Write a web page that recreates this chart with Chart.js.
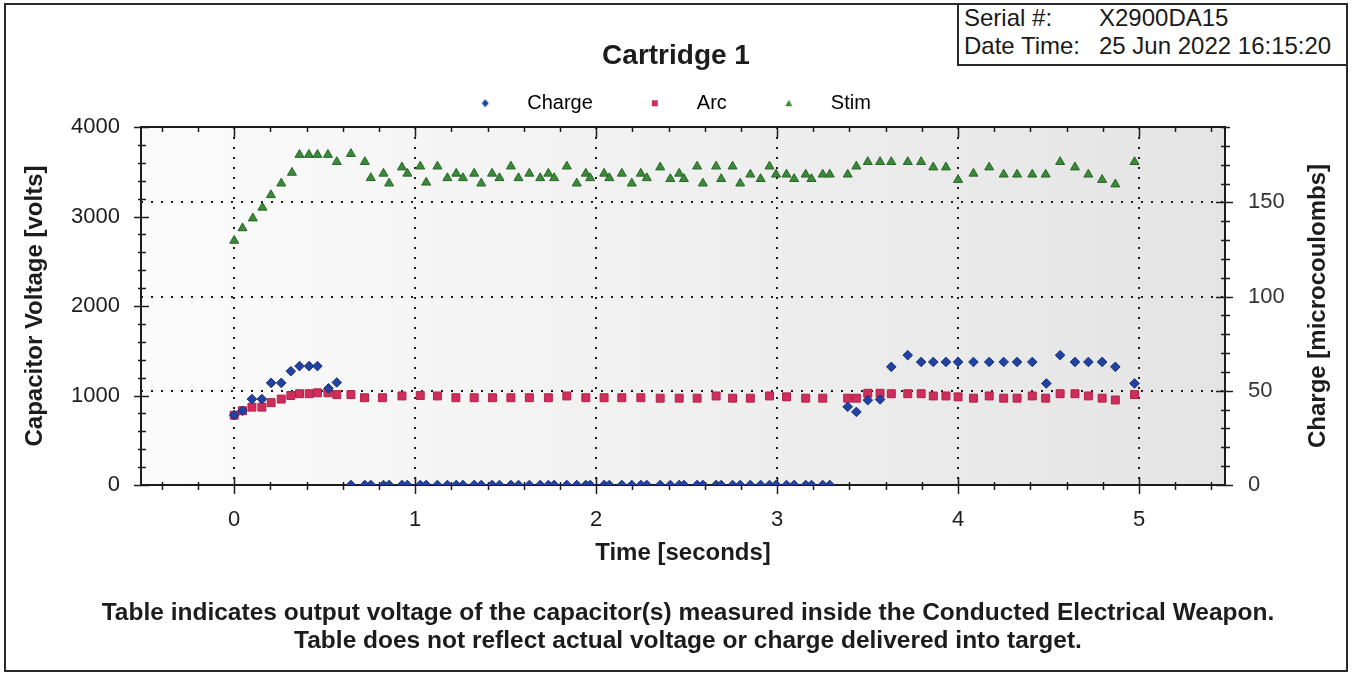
<!DOCTYPE html>
<html>
<head>
<meta charset="utf-8">
<script src="https://cdn.jsdelivr.net/npm/chart.js@4.4.0/dist/chart.umd.min.js"></script>
<style>
	body { margin: 0; background: #fff; }
	#page { position: relative; width: 1352px; height: 674px; font-family: "Liberation Sans", Arial, sans-serif; color: #1a1a1a; }
	#Chart_Cartridge { position: absolute; left: 0; top: 0; }
	#frame { position: absolute; left: 4px; top: 3px; width: 1344px; height: 669px; box-sizing: border-box; border: 2px solid #2a2a2a; }
	#serial_box { position: absolute; left: 957px; top: 3px; width: 391px; height: 63px; box-sizing: border-box; border: 2px solid #2a2a2a; background: #fff; }
	.serial_row { position: absolute; left: 5px; width: 380px; font-size: 24px; line-height: 28px; white-space: nowrap; }
	.serial_val { position: absolute; left: 135px; }
</style>
</head>
<body>
<div id="page">
	<canvas id="Chart_Cartridge" width="1352" height="674"></canvas>
	<div id="frame"></div>
	<div id="serial_box">
		<div class="serial_row" style="top:-1px">Serial #:<span class="serial_val">X2900DA15</span></div>
		<div class="serial_row" style="top:27px">Date Time:<span class="serial_val">25 Jun 2022 16:15:20</span></div>
	</div>
</div>
<script>
// axis ticks (labelled) and minor tick steps
const time_ticks = [0, 1, 2, 3, 4, 5];
const volt_ticks = [0, 1000, 2000, 3000, 4000];
const charge_ticks = [0, 50, 100, 150];
const time_minor_step = 0.2;
const volt_minor_step = 200;
const charge_minor_step = 10;

const chart_title = 'Cartridge 1';
const left_title = 'Capacitor Voltage [volts]';
const right_title = 'Charge [microcoulombs]';
const bottom_title = 'Time [seconds]';
const footnote = [
	'Table indicates output voltage of the capacitor(s) measured inside the Conducted Electrical Weapon.',
	'Table does not reflect actual voltage or charge delivered into target.'
];

// Stim (volts)
const stim_time = [0.00, 0.046, 0.103, 0.156, 0.203, 0.260, 0.319, 0.361, 0.413, 0.460, 0.518, 0.567, 0.645, 0.722, 0.755, 0.825, 0.856, 0.927, 0.957, 1.028,
	1.061, 1.123, 1.178, 1.227, 1.264, 1.326, 1.365, 1.425, 1.466, 1.529, 1.571, 1.631, 1.691, 1.736, 1.768, 1.838, 1.893, 1.943, 1.967, 2.044,
	2.073, 2.142, 2.197, 2.247, 2.280, 2.354, 2.410, 2.459, 2.485, 2.558, 2.590, 2.663, 2.691, 2.754, 2.796, 2.852, 2.909, 2.958, 2.994, 3.052,
	3.094, 3.158, 3.190, 3.252, 3.291, 3.390, 3.438, 3.501, 3.569, 3.631, 3.722, 3.796, 3.863, 3.933, 4.000, 4.085, 4.172, 4.252, 4.326, 4.410,
	4.484, 4.564, 4.646, 4.720, 4.796, 4.869, 4.975];
const stim_volts = [2730, 2870, 2980, 3100, 3240, 3370, 3490, 3690, 3690, 3690, 3690, 3610, 3700, 3610, 3430, 3480, 3370, 3550, 3480, 3560,
	3380, 3560, 3430, 3480, 3430, 3480, 3370, 3480, 3430, 3560, 3430, 3480, 3430, 3480, 3430, 3560, 3370, 3480, 3430, 3480,
	3430, 3480, 3370, 3480, 3430, 3550, 3420, 3480, 3420, 3560, 3370, 3560, 3420, 3560, 3370, 3470, 3420, 3560, 3470, 3470,
	3420, 3470, 3420, 3470, 3470, 3470, 3560, 3610, 3610, 3610, 3610, 3610, 3550, 3550, 3410, 3480, 3550, 3470, 3470, 3470,
	3470, 3610, 3550, 3470, 3410, 3360, 3610];

// Arc (volts)
const arc_time = [0.00, 0.046, 0.098, 0.153, 0.204, 0.260, 0.313, 0.361, 0.414, 0.460, 0.518, 0.567, 0.645, 0.720, 0.819, 0.927, 1.028, 1.123, 1.225, 1.326,
	1.427, 1.529, 1.631, 1.736, 1.838, 1.943, 2.044, 2.142, 2.247, 2.354, 2.459, 2.558, 2.663, 2.754, 2.852, 2.958, 3.052, 3.158, 3.252, 3.390,
	3.438, 3.501, 3.569, 3.631, 3.722, 3.796, 3.863, 3.933, 4.000, 4.085, 4.172, 4.252, 4.326, 4.410, 4.484, 4.564, 4.646, 4.720, 4.796, 4.869,
	4.975];
const arc_volts = [780, 830, 870, 870, 920, 960, 1000, 1020, 1020, 1030, 1030, 1010, 1010, 975, 975, 995, 1000, 995, 975, 975,
	975, 975, 975, 975, 995, 975, 975, 975, 975, 970, 970, 970, 995, 970, 970, 995, 985, 970, 970, 970,
	970, 1025, 1025, 1020, 1020, 1020, 995, 995, 985, 970, 995, 970, 970, 995, 970, 1020, 1020, 995, 970, 950,
	1010];

// Charge (microcoulombs)
const charge_time = [0.00, 0.046, 0.098, 0.153, 0.204, 0.260, 0.313, 0.361, 0.414, 0.460, 0.521, 0.567,
	0.645, 0.722, 0.755, 0.825, 0.856, 0.927, 0.957, 1.028, 1.061, 1.123, 1.178, 1.227, 1.264, 1.326, 1.365, 1.425, 1.466, 1.529,
	1.571, 1.631, 1.691, 1.736, 1.768, 1.838, 1.893, 1.943, 1.967, 2.044, 2.073, 2.142, 2.197, 2.247, 2.280, 2.354, 2.410, 2.459,
	2.485, 2.558, 2.590, 2.663, 2.691, 2.754, 2.796, 2.852, 2.909, 2.958, 2.994, 3.052, 3.094, 3.158, 3.190, 3.252, 3.291,
	3.390, 3.438, 3.501, 3.569, 3.631, 3.722, 3.796, 3.863, 3.933, 4.000, 4.085, 4.172, 4.252, 4.326, 4.410, 4.488, 4.564,
	4.646, 4.720, 4.796, 4.869, 4.975];
const charge_uc = [37.1, 39.4, 45.6, 45.6, 54.2, 54.2, 60.4, 63.1, 63.1, 63.1, 51.3, 54.4,
	0, 0, 0, 0, 0, 0, 0, 0, 0, 0, 0, 0, 0, 0, 0, 0, 0, 0,
	0, 0, 0, 0, 0, 0, 0, 0, 0, 0, 0, 0, 0, 0, 0, 0, 0, 0,
	0, 0, 0, 0, 0, 0, 0, 0, 0, 0, 0, 0, 0, 0, 0, 0, 0,
	41.5, 38.8, 45.0, 45.4, 62.7, 68.9, 65.3, 65.3, 65.3, 65.3, 65.3, 65.3, 65.3, 65.3, 65.3, 53.9, 68.9,
	65.3, 65.3, 65.3, 62.7, 53.9];

const font_family = '"Liberation Sans", Arial, sans-serif';
const ink = '#1c1c1c';

function to_points(xs, ys) {
	const pts = [];
	let idx = 0;
	while(idx < xs.length) {
		pts.push({ x: xs[idx], y: ys[idx] });
		idx++;
	}
	return pts;
}

function legend_icon(shape, fill) {
	const c = document.createElement('canvas');
	c.width = 10;
	c.height = 10;
	const g = c.getContext('2d');
	g.fillStyle = fill;
	g.beginPath();
	if(shape === 'diamond') {
		g.moveTo(5, 1); g.lineTo(8.5, 5); g.lineTo(5, 9); g.lineTo(1.5, 5);
	}
	else if(shape === 'square') {
		g.rect(2, 2, 6, 6);
	}
	else {
		g.moveTo(5, 1.5); g.lineTo(8.5, 8); g.lineTo(1.5, 8);
	}
	g.closePath();
	g.fill();
	return c;
}

const legend_icons = [
	legend_icon('diamond', '#2142a0'),
	legend_icon('square', '#cf2e5a'),
	legend_icon('triangle', '#3a8a3a')
];

// background, frame, tick marks and right title
const axis_frame = {
	id: 'axis_frame',
	afterLayout(chart) {
		if(chart.legend) {
			chart.legend.left -= 14;
			chart.legend.right -= 14;
		}
		chart.boxes.forEach(b => {
			if(b !== chart.titleBlock && b.options && Array.isArray(b.options.text)) {
				b.left += 12;
				b.right += 12;
			}
		});
	},
	beforeDraw(chart) {
		const {ctx, chartArea: a} = chart;
		const grad = ctx.createLinearGradient(a.left, 0, a.right, 0);
		grad.addColorStop(0, '#fbfbfb');
		grad.addColorStop(1, '#e4e4e4');
		ctx.save();
		ctx.fillStyle = grad;
		ctx.fillRect(a.left, a.top, a.right - a.left, a.bottom - a.top);
		ctx.restore();
	},
	beforeDatasetsDraw(chart) {
		const {ctx, chartArea: a, scales} = chart;
		ctx.save();
		ctx.strokeStyle = ink;
		ctx.lineWidth = 2;
		ctx.strokeRect(a.left, a.top, a.right - a.left, a.bottom - a.top);
		ctx.lineWidth = 1.5;
		ctx.beginPath();

		const sx = scales.x;
		for(let i = Math.ceil(sx.min / time_minor_step); i * time_minor_step <= sx.max; i++) {
			const v = i * time_minor_step;
			const major = Math.abs(v - Math.round(v)) < 1e-6;
			const px = Math.round(sx.getPixelForValue(v)) + 0.5;
			ctx.moveTo(px, a.bottom - (major ? 8 : 3));
			ctx.lineTo(px, a.bottom + (major ? 9 : 5));
			ctx.moveTo(px, a.top);
			ctx.lineTo(px, a.top + (major ? 10 : 5));
		}

		const sy = scales.y;
		for(let v = sy.min; v <= sy.max; v += volt_minor_step) {
			const major = v % 1000 === 0;
			const py = Math.round(sy.getPixelForValue(v)) + 0.5;
			ctx.moveTo(a.left - (major ? 7 : 3), py);
			ctx.lineTo(a.left + (major ? 8 : 5), py);
		}

		const sy1 = scales.y1;
		for(let v = sy1.min; v <= sy1.max; v += charge_minor_step) {
			const major = v % 50 === 0;
			const py = Math.round(sy1.getPixelForValue(v)) + 0.5;
			ctx.moveTo(a.right - (major ? 9 : 4), py);
			ctx.lineTo(a.right + (major ? 8 : 5), py);
		}
		ctx.stroke();
		ctx.restore();
	},
	afterDraw(chart) {
		const ctx = chart.ctx;
		const s = chart.scales.y1;
		ctx.save();
		ctx.font = 'bold 24px ' + font_family;
		ctx.fillStyle = ink;
		ctx.textAlign = 'center';
		ctx.textBaseline = 'middle';
		ctx.translate(s.right - 34, (s.top + s.bottom) / 2);
		ctx.rotate(-Math.PI / 2);
		ctx.fillText(right_title, 0, 0);
		ctx.restore();
	}
};

function set_ticks(values) {
	return function(scale) {
		scale.ticks = values.map(v => ({ value: v }));
	};
}

const chart_data = {
	datasets: [{
		label: 'Charge',
		yAxisID: 'y1',
		data: to_points(charge_time, charge_uc),
		pointStyle: 'rectRot',
		pointRadius: 4.8,
		backgroundColor: '#2142a0',
		borderColor: '#18327f',
		borderWidth: 1,
		clip: 0
	}, {
		label: 'Arc',
		yAxisID: 'y',
		data: to_points(arc_time, arc_volts),
		pointStyle: 'rect',
		pointRadius: 5.6,
		backgroundColor: '#cf2e5a',
		borderColor: '#b02048',
		borderWidth: 1
	}, {
		label: 'Stim',
		yAxisID: 'y',
		data: to_points(stim_time, stim_volts),
		pointStyle: 'triangle',
		pointRadius: 5.2,
		backgroundColor: '#3a8a3a',
		borderColor: '#276627',
		borderWidth: 1
	}]
};

const options = {
	responsive: false,
	animation: false,
	events: [],
	layout: { padding: 0 },
	font: { family: font_family },
	plugins: {
		title: {
			display: true,
			text: chart_title,
			color: ink,
			font: { size: 28, weight: 'bold', family: font_family },
			padding: { top: 39.2, bottom: -9.6 }
		},
		subtitle: {
			display: true,
			position: 'bottom',
			text: footnote,
			color: ink,
			font: { size: 24.5, weight: 'bold', family: font_family, lineHeight: 28 / 24.5 },
			padding: { top: 0, bottom: 19 }
		},
		legend: {
			display: true,
			position: 'top',
			labels: {
				usePointStyle: true,
				pointStyleWidth: 64,
				padding: 30,
				color: '#404040',
				font: { size: 20, family: font_family },
				generateLabels: function(chart) {
					return chart.data.datasets.map((ds, i) => ({
						text: ds.label,
						pointStyle: legend_icons[i],
						fillStyle: ds.backgroundColor,
						strokeStyle: ds.borderColor,
						lineWidth: 0,
						hidden: false,
						datasetIndex: i
					}));
				}
			}
		},
		tooltip: { enabled: false }
	},
	scales: {
		x: {
			type: 'linear',
			position: 'bottom',
			min: -0.515,
			max: 5.475,
			afterBuildTicks: set_ticks(time_ticks),
			afterFit: function(scale) { scale.height = 114; },
			ticks: {
				autoSkip: false,
				padding: 22,
				color: ink,
				font: { size: 22, family: font_family },
				callback: v => String(v)
			},
			grid: { display: true, drawTicks: false, color: ink, lineWidth: 2 },
			border: { display: false, dash: [2, 8] },
			title: {
				display: true,
				text: bottom_title,
				color: ink,
				font: { size: 24, weight: 'bold', family: font_family },
				padding: { top: 0, bottom: 31.6 }
			}
		},
		x2: {
			type: 'linear',
			position: 'top',
			min: -0.515,
			max: 5.475,
			afterFit: function(scale) { scale.height = 3.8; },
			ticks: { display: false },
			grid: { display: false, drawTicks: false },
			border: { display: false }
		},
		y: {
			type: 'linear',
			position: 'left',
			min: 0,
			max: 4000,
			afterBuildTicks: set_ticks(volt_ticks),
			afterFit: function(scale) { scale.width = 141; },
			ticks: {
				padding: 21,
				color: ink,
				font: { size: 22, family: font_family },
				callback: v => String(v)
			},
			grid: { display: false, drawTicks: false },
			border: { display: false },
			title: {
				display: true,
				text: left_title,
				color: ink,
				font: { size: 24, weight: 'bold', family: font_family },
				padding: { top: 20.6, bottom: 0 }
			}
		},
		y1: {
			type: 'linear',
			position: 'right',
			min: 0,
			max: 190,
			afterBuildTicks: set_ticks(charge_ticks),
			afterFit: function(scale) { scale.width = 127; },
			ticks: {
				padding: 23,
				color: '#333',
				font: { size: 22, family: font_family },
				callback: v => String(v)
			},
			grid: {
				display: true,
				drawTicks: false,
				lineWidth: 2,
				color: function(c) { return (c.tick && c.tick.value === 0) ? 'rgba(0,0,0,0)' : ink; }
			},
			border: { display: false, dash: [2, 8] }
		}
	}
};

const chart_ctx = document.getElementById('Chart_Cartridge').getContext('2d');
const chart = new Chart(chart_ctx, {
	type: 'scatter',
	data: chart_data,
	options: options,
	plugins: [axis_frame]
});
</script>
</body>
</html>
